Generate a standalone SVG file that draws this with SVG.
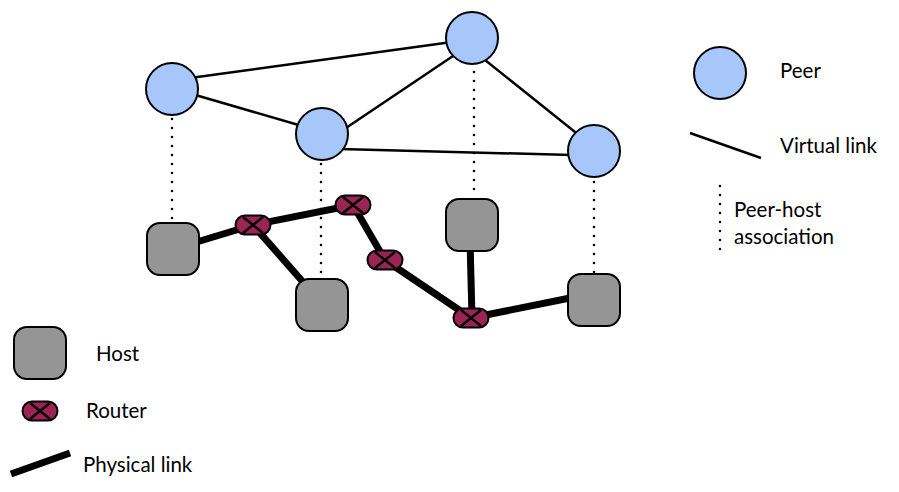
<svg xmlns="http://www.w3.org/2000/svg" width="899" height="492" viewBox="0 0 899 492">
<style>
.peer{fill:#a7c7fa;stroke:#000;stroke-width:2}
.host{fill:#959595;stroke:#000;stroke-width:2}
.router{fill:#9b2454;stroke:#000;stroke-width:2}
.rx{stroke:#000;stroke-width:2.5;fill:none}
.vl{stroke:#000;stroke-width:2.5;fill:none}
.pl{stroke:#000;stroke-width:7;fill:none}
.dot{stroke:#000;stroke-width:2.6;stroke-dasharray:0 9;stroke-linecap:round;fill:none}
text{font-family:Lato,"Open Sans","Liberation Sans",sans-serif;font-size:20.5px;fill:#000}
</style>
<defs>
<g id="rt">
<rect class="router" x="-17.5" y="-9.5" width="35" height="19" rx="9.5"/>
<path class="rx" d="M-10-8L10 8M10-8L-10 8"/>
</g>
</defs>
<g id="connectors">
<g id="virtual">
<line class="vl" x1="190" y1="78" x2="452" y2="42"/>
<line class="vl" x1="192" y1="94" x2="302" y2="126"/>
<line class="vl" x1="340" y1="132" x2="456" y2="54"/>
<line class="vl" x1="340" y1="149" x2="572" y2="155"/>
<line class="vl" x1="480" y1="56" x2="580" y2="136"/>
</g>
<g id="association">
<line class="dot" x1="172" y1="119" x2="172" y2="221"/>
<line class="dot" x1="321" y1="164" x2="321" y2="278"/>
<line class="dot" x1="474" y1="72" x2="474" y2="198"/>
<line class="dot" x1="594" y1="182" x2="594" y2="273"/>
</g>
<g id="physical">
<line class="pl" x1="190" y1="244" x2="253" y2="225"/>
<line class="pl" x1="253" y1="225" x2="353" y2="205"/>
<line class="pl" x1="253" y1="225" x2="310" y2="290"/>
<line class="pl" x1="353" y1="205" x2="385" y2="260"/>
<line class="pl" x1="385" y1="260" x2="471" y2="318"/>
<line class="pl" x1="470" y1="240" x2="472" y2="318"/>
<line class="pl" x1="471" y1="318" x2="580" y2="296"/>
</g>
</g>
<g id="peer1"><circle class="peer" cx="172" cy="89" r="26"/></g>
<g id="peer2"><circle class="peer" cx="472" cy="38" r="26"/></g>
<g id="peer3"><circle class="peer" cx="322" cy="134" r="26"/></g>
<g id="peer4"><circle class="peer" cx="594" cy="151" r="26"/></g>
<g id="host1"><rect class="host" x="147" y="223" width="52" height="52" rx="13"/></g>
<g id="host2"><rect class="host" x="296" y="279" width="52" height="52" rx="13"/></g>
<g id="host3"><rect class="host" x="446" y="199" width="52" height="52" rx="13"/></g>
<g id="host4"><rect class="host" x="568" y="274" width="52" height="52" rx="13"/></g>
<g id="router1"><use href="#rt" x="253" y="225"/></g>
<g id="router2"><use href="#rt" x="353" y="205"/></g>
<g id="router3"><use href="#rt" x="385" y="260"/></g>
<g id="router4"><use href="#rt" x="471" y="318"/></g>
<g id="legend">
<circle class="peer" cx="720" cy="73" r="26"/>
<text x="780" y="78">Peer</text>
<line class="vl" x1="690" y1="133" x2="761" y2="158"/>
<text x="780" y="153">Virtual link</text>
<line class="dot" x1="720" y1="186" x2="720" y2="258"/>
<text x="734" y="217">Peer-host</text>
<text x="734" y="244">association</text>
<rect class="host" x="14" y="327" width="52" height="52" rx="13"/>
<text x="96" y="361">Host</text>
<use href="#rt" x="40" y="411"/>
<text x="86" y="418">Router</text>
<line class="pl" x1="11" y1="474" x2="70" y2="453"/>
<text x="83" y="472">Physical link</text>
</g>
</svg>
